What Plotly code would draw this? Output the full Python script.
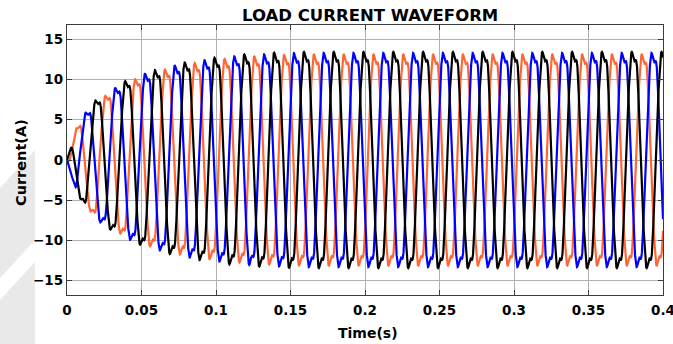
import numpy as np
import plotly.graph_objects as go

# --- data -----------------------------------------------------------------
FREQ_HZ = 50.0
T_END = 0.4

# amplitude envelope of the load current (A) at the given instants (s)
ENV_T = [0.0, 0.003, 0.006, 0.011, 0.0125, 0.0155, 0.019, 0.022, 0.026, 0.030,
         0.033, 0.036, 0.039, 0.042, 0.046, 0.049, 0.052, 0.058, 0.062, 0.066,
         0.072, 0.076, 0.082, 0.089, 0.096, 0.102, 0.108, 0.12, 0.14, 0.16, 0.40]
ENV_A = [0.0, 2.0, 4.0, 5.3, 5.9, 6.4, 7.3, 7.7, 8.1, 8.7,
         9.0, 9.3, 9.7, 9.9, 10.2, 10.4, 10.7, 11.0, 11.2, 11.4,
         11.7, 11.9, 12.1, 12.3, 12.5, 12.6, 12.8, 13.0, 13.2, 13.3, 13.3]

PHASES = ["Phase A", "Phase B", "Phase C"]
PHASE_PEAK_T = [0.0057, 0.0123, 0.0190]   # time of first positive peak (s)
PHASE_GAIN = [0.985, 1.0, 1.01]
COLORS = ["#FF6633", "#0000FF", "#000000"]

X_TICKS = [0, 0.05, 0.1, 0.15, 0.2, 0.25, 0.3, 0.35, 0.4]
X_TICK_TEXT = ["0", "0.05", "0.1", "0.15", "0.2", "0.25", "0.3", "0.35", "0.4"]
Y_TICKS = [-15, -10, -5, 0, 5, 10, 15]

# harmonic content giving the flattened, shouldered non-linear load current
H3_MAG = 0.08
H5_MAG = 0.05
H5_ANG = 2.2

# --- waveform -------------------------------------------------------------
def unit_wave(theta):
    return (np.sin(theta) + H3_MAG * np.sin(3 * theta)
            + H5_MAG * np.sin(5 * theta + H5_ANG))

th = np.linspace(0, 2 * np.pi, 20001)
w = unit_wave(th)
w_peak = w.max()
th_peak = th[w.argmax()]

t = np.linspace(0, T_END, 8001)
env = np.interp(t, ENV_T, ENV_A)
omega = 2 * np.pi * FREQ_HZ

fig = go.Figure()
for name, tp, g, col in zip(PHASES, PHASE_PEAK_T, PHASE_GAIN, COLORS):
    theta = omega * (t - tp) + th_peak
    i = g * env * unit_wave(theta) / w_peak
    fig.add_trace(go.Scatter(x=t, y=i, mode="lines", name=name,
                             line=dict(color=col, width=2.2), showlegend=False))

# --- layout ---------------------------------------------------------------
L, R, T, B = 67, 10, 25, 49
W, H = 673, 344
pw, ph = W - L - R, H - T - B

def px(x):
    return (x - L) / pw

def py(y):
    return (H - B - y) / ph

font = "DejaVu Sans, Verdana, sans-serif"
axis_common = dict(showline=True, mirror="ticks", linecolor="#3c3c3c", linewidth=1.3,
                   ticks="inside", ticklen=5, tickcolor="#3c3c3c",
                   showgrid=True, gridcolor="#b0b0b0", gridwidth=1, zeroline=False,
                   ticklabeloverflow="allow",
                   tickfont=dict(family=font, size=13.5, color="#000000", weight="bold"))

fig.update_layout(
    width=W, height=H,
    margin=dict(l=L, r=R, t=T, b=B, autoexpand=False),
    paper_bgcolor="#ffffff", plot_bgcolor="#ffffff",
    xaxis=dict(range=[0, T_END], tickvals=X_TICKS, ticktext=X_TICK_TEXT,
               ticklabelstandoff=3, **axis_common),
    yaxis=dict(range=[-16.77, 16.77], tickvals=Y_TICKS, **axis_common),
    shapes=[
        dict(type="path", xref="paper", yref="paper", layer="below",
             path=f"M {px(0)} {py(188)} L {px(35)} {py(150)} L {px(35)} {py(240)} L {px(0)} {py(278)} Z",
             fillcolor="#e9e9e9", line=dict(width=0)),
        dict(type="path", xref="paper", yref="paper", layer="below",
             path=f"M {px(0)} {py(300)} L {px(35)} {py(262)} L {px(35)} {py(344)} L {px(0)} {py(344)} Z",
             fillcolor="#e9e9e9", line=dict(width=0)),
    ],
    annotations=[
        dict(text="LOAD CURRENT WAVEFORM", xref="paper", yref="paper",
             x=px(370), y=py(15), xanchor="center", yanchor="middle", showarrow=False,
             font=dict(family=font, size=16.5, color="#000000", weight="bold")),
        dict(text="Time(s)", xref="paper", yref="paper",
             x=px(368), y=py(333), xanchor="center", yanchor="middle", showarrow=False,
             font=dict(family=font, size=14, color="#000000", weight="bold")),
        dict(text="Current(A)", xref="paper", yref="paper", textangle=-90,
             x=px(21), y=py(163), xanchor="center", yanchor="middle", showarrow=False,
             font=dict(family=font, size=14.5, color="#000000", weight="bold")),
    ],
)

fig.write_html("out.html")
